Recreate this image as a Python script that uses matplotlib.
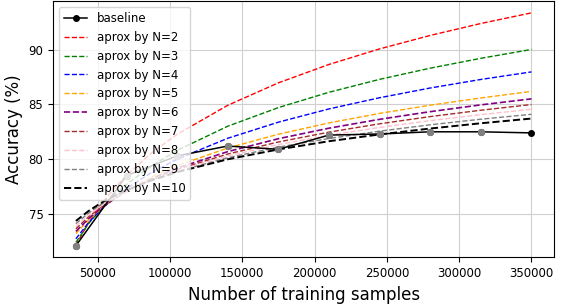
import matplotlib
matplotlib.use("Agg")
import matplotlib.pyplot as plt

# Baseline accuracy measured at each training size
samples = [35000, 70000, 105000, 140000, 175000, 210000, 245000, 280000, 315000, 350000]
baseline = [72.1, 78.5, 80.3, 81.2, 80.9, 82.2, 82.3, 82.5, 82.5, 82.4]

# Approximation curves
x_fit = [35000, 43750, 52500, 61250, 70000, 87500, 105000, 140000,
         175000, 210000, 245000, 280000, 315000, 350000]
aprox_n2 = [72.15, 74.21, 75.89, 77.30, 78.53, 80.59, 82.27, 84.92, 86.97, 88.65, 90.07, 91.30, 92.39, 93.36]
aprox_n3 = [72.40, 74.11, 75.50, 76.68, 77.70, 79.41, 80.80, 83.01, 84.71, 86.11, 87.29, 88.31, 89.21, 90.02]
aprox_n4 = [72.73, 74.21, 75.41, 76.44, 77.32, 78.80, 80.00, 81.91, 83.38, 84.59, 85.61, 86.50, 87.28, 87.97]
aprox_n5 = [73.20, 74.46, 75.49, 76.36, 77.11, 78.37, 79.40, 81.02, 82.28, 83.31, 84.18, 84.93, 85.59, 86.19]
aprox_n6 = [73.40, 74.57, 75.53, 76.34, 77.05, 78.22, 79.18, 80.69, 81.87, 82.83, 83.64, 84.34, 84.96, 85.51]
aprox_n7 = [73.64, 74.74, 75.64, 76.40, 77.06, 78.16, 79.06, 80.47, 81.57, 82.47, 83.23, 83.89, 84.47, 84.99]
aprox_n8 = [73.85, 74.89, 75.74, 76.45, 77.07, 78.11, 78.96, 80.30, 81.33, 82.18, 82.90, 83.52, 84.07, 84.56]
aprox_n9 = [74.11, 75.08, 75.87, 76.54, 77.12, 78.09, 78.88, 80.13, 81.10, 81.89, 82.56, 83.14, 83.65, 84.10]
aprox_n10 = [74.36, 75.27, 76.01, 76.63, 77.17, 78.08, 78.82, 79.99, 80.89, 81.64, 82.26, 82.80, 83.28, 83.71]

curves = [aprox_n2, aprox_n3, aprox_n4, aprox_n5, aprox_n6,
          aprox_n7, aprox_n8, aprox_n9, aprox_n10]
colors = ["red", "green", "blue", "orange", "purple", "brown", "pink", "gray", "black"]
widths = [1, 1, 1, 1, 1.2, 1, 1, 1, 1.4]

fig = plt.figure(figsize=(5.65, 3.06), dpi=100)
ax = fig.add_axes([0.094, 0.159, 0.887, 0.837])

ax.plot(samples, baseline, color="black", marker="o", markersize=4, linewidth=1.1, label="baseline", zorder=3)
ax.scatter(samples[:9], baseline[:9], color="gray", s=18, zorder=4)

for n, (vals, c, lw) in enumerate(zip(curves, colors, widths), start=2):
    ax.plot(x_fit, vals, linestyle="--", color=c, linewidth=lw, label=f"aprox by N={n}")

ax.grid(True, color="#d0d0d0", linewidth=0.8)
ax.set_axisbelow(True)
ax.set_xticks([50000, 100000, 150000, 200000, 250000, 300000, 350000])
ax.set_yticks([75, 80, 85, 90])
ax.tick_params(labelsize=8.5)
ax.set_xlabel("Number of training samples", fontsize=12)
ax.set_ylabel("Accuracy (%)", fontsize=12)
ax.legend(loc="upper left", fontsize=8.5)

fig.savefig("out.png", dpi=100)
